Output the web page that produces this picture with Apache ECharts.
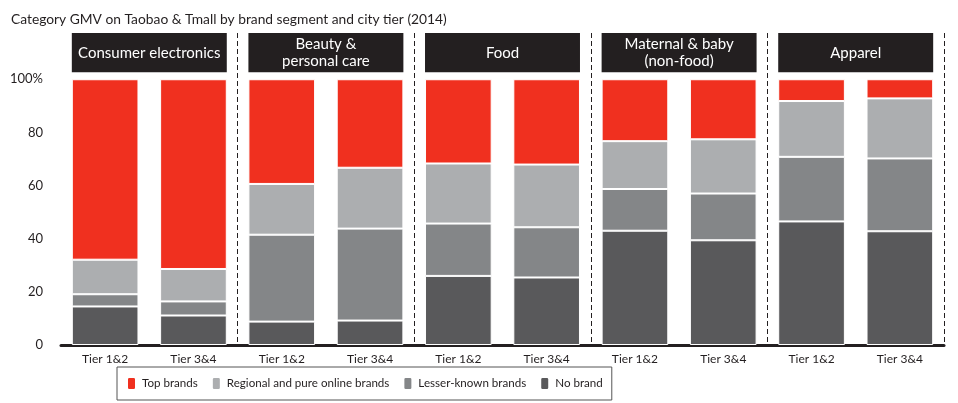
<!DOCTYPE html>
<html><head><meta charset="utf-8">
<script src="https://cdn.jsdelivr.net/npm/echarts@6/dist/echarts.min.js"></script>
<style>html,body{margin:0;padding:0;background:#fff}#c{width:958px;height:403px}</style>
</head><body><div id="c"></div>
<script>
const groups = ['Consumer electronics', 'Beauty &\npersonal care', 'Food', 'Maternal & baby\n(non-food)', 'Apparel'];
const tiers = ['Tier 1&2', 'Tier 3&4'];
const seriesNames = ['Top brands', 'Regional and pure online brands', 'Lesser-known brands', 'No brand'];
const noBrand  = [14.5, 11.1, 8.8, 9.2, 26.0, 25.4, 43.0, 39.4, 46.5, 42.8];
const lesser   = [4.6, 5.3, 32.7, 34.6, 19.7, 18.9, 15.7, 17.6, 24.3, 27.4];
const regional = [13.0, 12.2, 19.1, 22.9, 22.6, 23.6, 18.0, 20.4, 21.0, 22.6];
const topBrands = [67.9, 71.4, 39.4, 33.3, 31.7, 32.1, 23.3, 22.6, 8.2, 7.2];
const yTicks = [0, 20, 40, 60, 80, 100];

const FONT = 'Lato';
const categories = [];
groups.forEach((g, gi) => tiers.forEach(t => categories.push(gi + '|' + t)));
const YMAX = 117.4, BOX_BOTTOM = 102.6, BAR_RATIO = 0.755;
const colors = {top: '#f0301f', regional: '#acaeb0', lesser: '#848688', none: '#59595b'};

function bar(name, data, color) {
  return {name, type: 'bar', stack: 'a', data, barWidth: (BAR_RATIO * 100) + '%',
    itemStyle: {color, borderColor: '#fff', borderWidth: 1}, emphasis: {disabled: true}};
}

const chart = echarts.init(document.getElementById('c'), null, {renderer: 'canvas'});
chart.setOption({
  animation: false,
  textStyle: {fontFamily: FONT},
  title: {text: 'Category GMV on Taobao & Tmall by brand segment and city tier (2014)', left: 6, top: 8,
    textStyle: {fontFamily: FONT, fontSize: 13.8, fontWeight: 'normal', color: '#231f20'}},
  grid: {left: 61, right: 14, top: 33, bottom: 58},
  legend: {data: seriesNames, left: 117, top: 367, itemWidth: 9, itemHeight: 13, itemGap: 13,
    padding: [9, 9], borderColor: '#555', borderWidth: 1, selectedMode: false,
    textStyle: {fontFamily: FONT, fontSize: 11.6, color: '#231f20', padding: [0, 0, 0, 1]}},
  xAxis: {type: 'category', data: categories,
    axisLine: {lineStyle: {color: '#231f20', width: 3}},
    axisTick: {show: false},
    axisLabel: {formatter: v => v.split('|')[1], fontFamily: FONT, fontSize: 12, color: '#231f20', margin: 8},
    splitLine: {show: true, interval: (i) => i > 0 && i % 2 === 0 && i < 10,
      lineStyle: {color: '#231f20', type: [5, 3], width: 1}}},
  yAxis: {type: 'value', min: 0, max: YMAX, interval: 20,
    axisLine: {show: false}, axisTick: {show: false}, splitLine: {show: false},
    axisLabel: {formatter: v => yTicks.indexOf(v) < 0 ? '' : (v === 100 ? '100%' : String(v)),
      fontFamily: FONT, fontSize: 13, color: '#231f20', margin: 18}},
  series: [
    bar(seriesNames[3], noBrand, colors.none),
    bar(seriesNames[2], lesser, colors.lesser),
    bar(seriesNames[1], regional, colors.regional),
    bar(seriesNames[0], topBrands, colors.top),
    {type: 'custom', name: 'headers', data: groups.map((g, i) => [i * 2, i * 2 + 1]),
      encode: {x: [0, 1]}, silent: true, z: 5,
      renderItem: (params, api) => {
        const i0 = api.value(0), i1 = api.value(1);
        const band = api.size([1, 0])[0];
        const p0 = api.coord([i0, YMAX]);
        const p1 = api.coord([i1, BOX_BOTTOM]);
        const x0 = p0[0] - band * BAR_RATIO / 2;
        const x1 = p1[0] + band * BAR_RATIO / 2;
        return {type: 'group', children: [
          {type: 'rect', shape: {x: x0, y: p0[1], width: x1 - x0, height: p1[1] - p0[1]},
            style: {fill: '#231f20'}},
          {type: 'text', x: (x0 + x1) / 2, y: (p0[1] + p1[1]) / 2,
            style: {text: groups[params.dataIndex], fill: '#fff', font: '15px ' + FONT,
              align: 'center', verticalAlign: 'middle', lineHeight: 17}}
        ]};
      }}
  ]
});
</script></body></html>
